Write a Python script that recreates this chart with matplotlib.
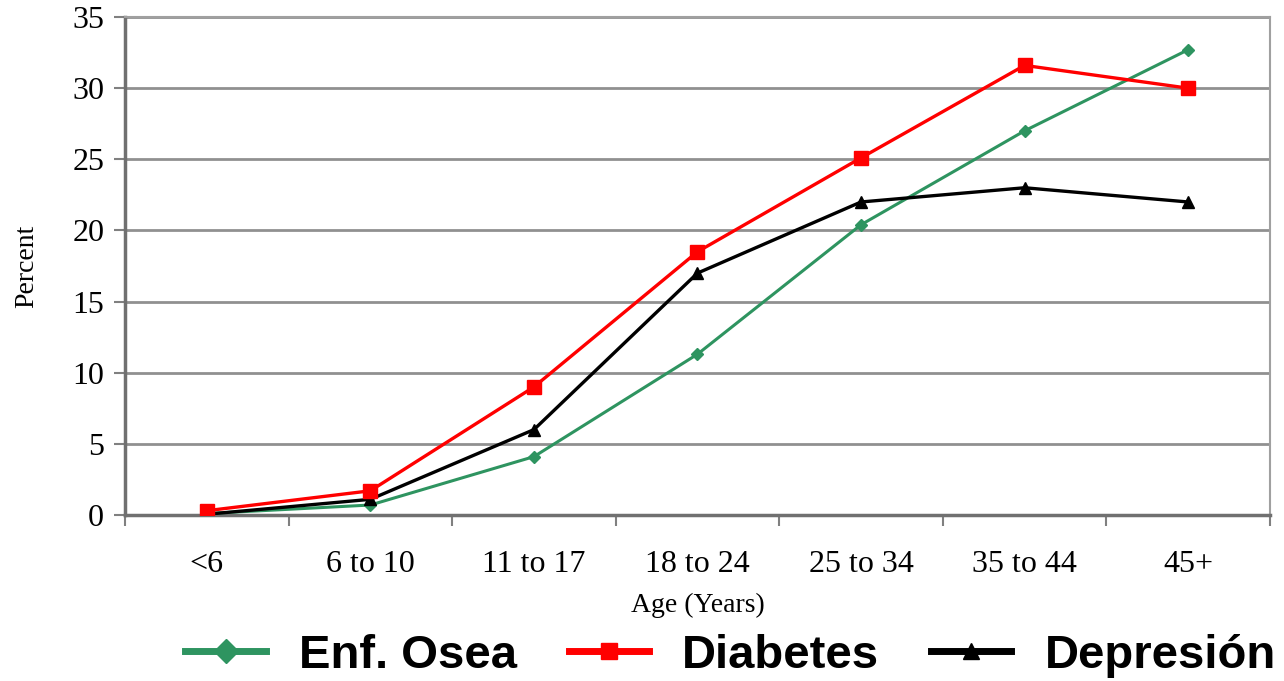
import matplotlib.pyplot as plt
from matplotlib.lines import Line2D

# data
ages = ["<6", "6 to 10", "11 to 17", "18 to 24", "25 to 34", "35 to 44", "45+"]
osea = [0.1, 0.7, 4.1, 11.3, 20.4, 27.0, 32.7]
diabetes = [0.3, 1.7, 9.0, 18.5, 25.1, 31.6, 30.0]
depresion = [0.05, 1.1, 6.0, 17.0, 22.0, 23.0, 22.0]

fig = plt.figure(figsize=(12.84, 6.81), dpi=100)
ax = fig.add_axes([0.0974, 0.2438, 0.8916, 0.7312])

x = range(len(ages))
ax.plot(x, osea, color="#2e9460", lw=2.2, marker="D", ms=6, label="Enf. Osea", zorder=3)
ax.plot(x, diabetes, color="#ff0000", lw=2.4, marker="s", ms=10, label="Diabetes", zorder=4)
ax.plot(x, depresion, color="black", lw=2.4, marker="^", ms=8, label="Depresión", zorder=3)

ax.set_xlim(-0.5, 6.5)
ax.set_ylim(0, 35)
ax.set_yticks(range(0, 36, 5))
ax.set_xticks(x)
ax.set_xticklabels(ages)
ax.set_xticks([i + 0.5 for i in range(-1, 7)], minor=True)
ax.tick_params(axis="x", which="major", length=0, pad=25)
ax.tick_params(axis="x", which="minor", length=8, width=1.5, color="#808080", direction="out")
ax.tick_params(axis="y", length=8, width=1.5, color="#808080", direction="out", pad=7)

ax.grid(axis="y", color="#909090", lw=2)
ax.set_axisbelow(True)
for side in ["top", "right"]:
    ax.spines[side].set_color("#a0a0a0")
    ax.spines[side].set_linewidth(1.5)
for side in ["left", "bottom"]:
    ax.spines[side].set_color("#707070")
    ax.spines[side].set_linewidth(2.5)

for lab in ax.get_xticklabels() + ax.get_yticklabels():
    lab.set_fontfamily("Liberation Serif")
    lab.set_fontsize(23)
ax.set_xlabel("Age (Years)", fontfamily="Liberation Serif", fontsize=20, labelpad=10)
ax.set_ylabel("Percent", fontfamily="Liberation Serif", fontsize=20, labelpad=24)

handles = [
    Line2D([], [], color="#2e9460", lw=5, marker="D", ms=12),
    Line2D([], [], color="#ff0000", lw=5, marker="s", ms=12),
    Line2D([], [], color="black", lw=5, marker="^", ms=12),
]
fig.legend(handles, ["Enf. Osea", "Diabetes", "Depresión"], ncol=3,
           loc="center", bbox_to_anchor=(0.569, 0.037), frameon=False,
           prop={"family": "Liberation Sans", "weight": "bold", "size": 34},
           handlelength=1.7, handletextpad=0.7, columnspacing=1.1,
           borderpad=0, borderaxespad=0)

fig.savefig("out.png", dpi=100)
